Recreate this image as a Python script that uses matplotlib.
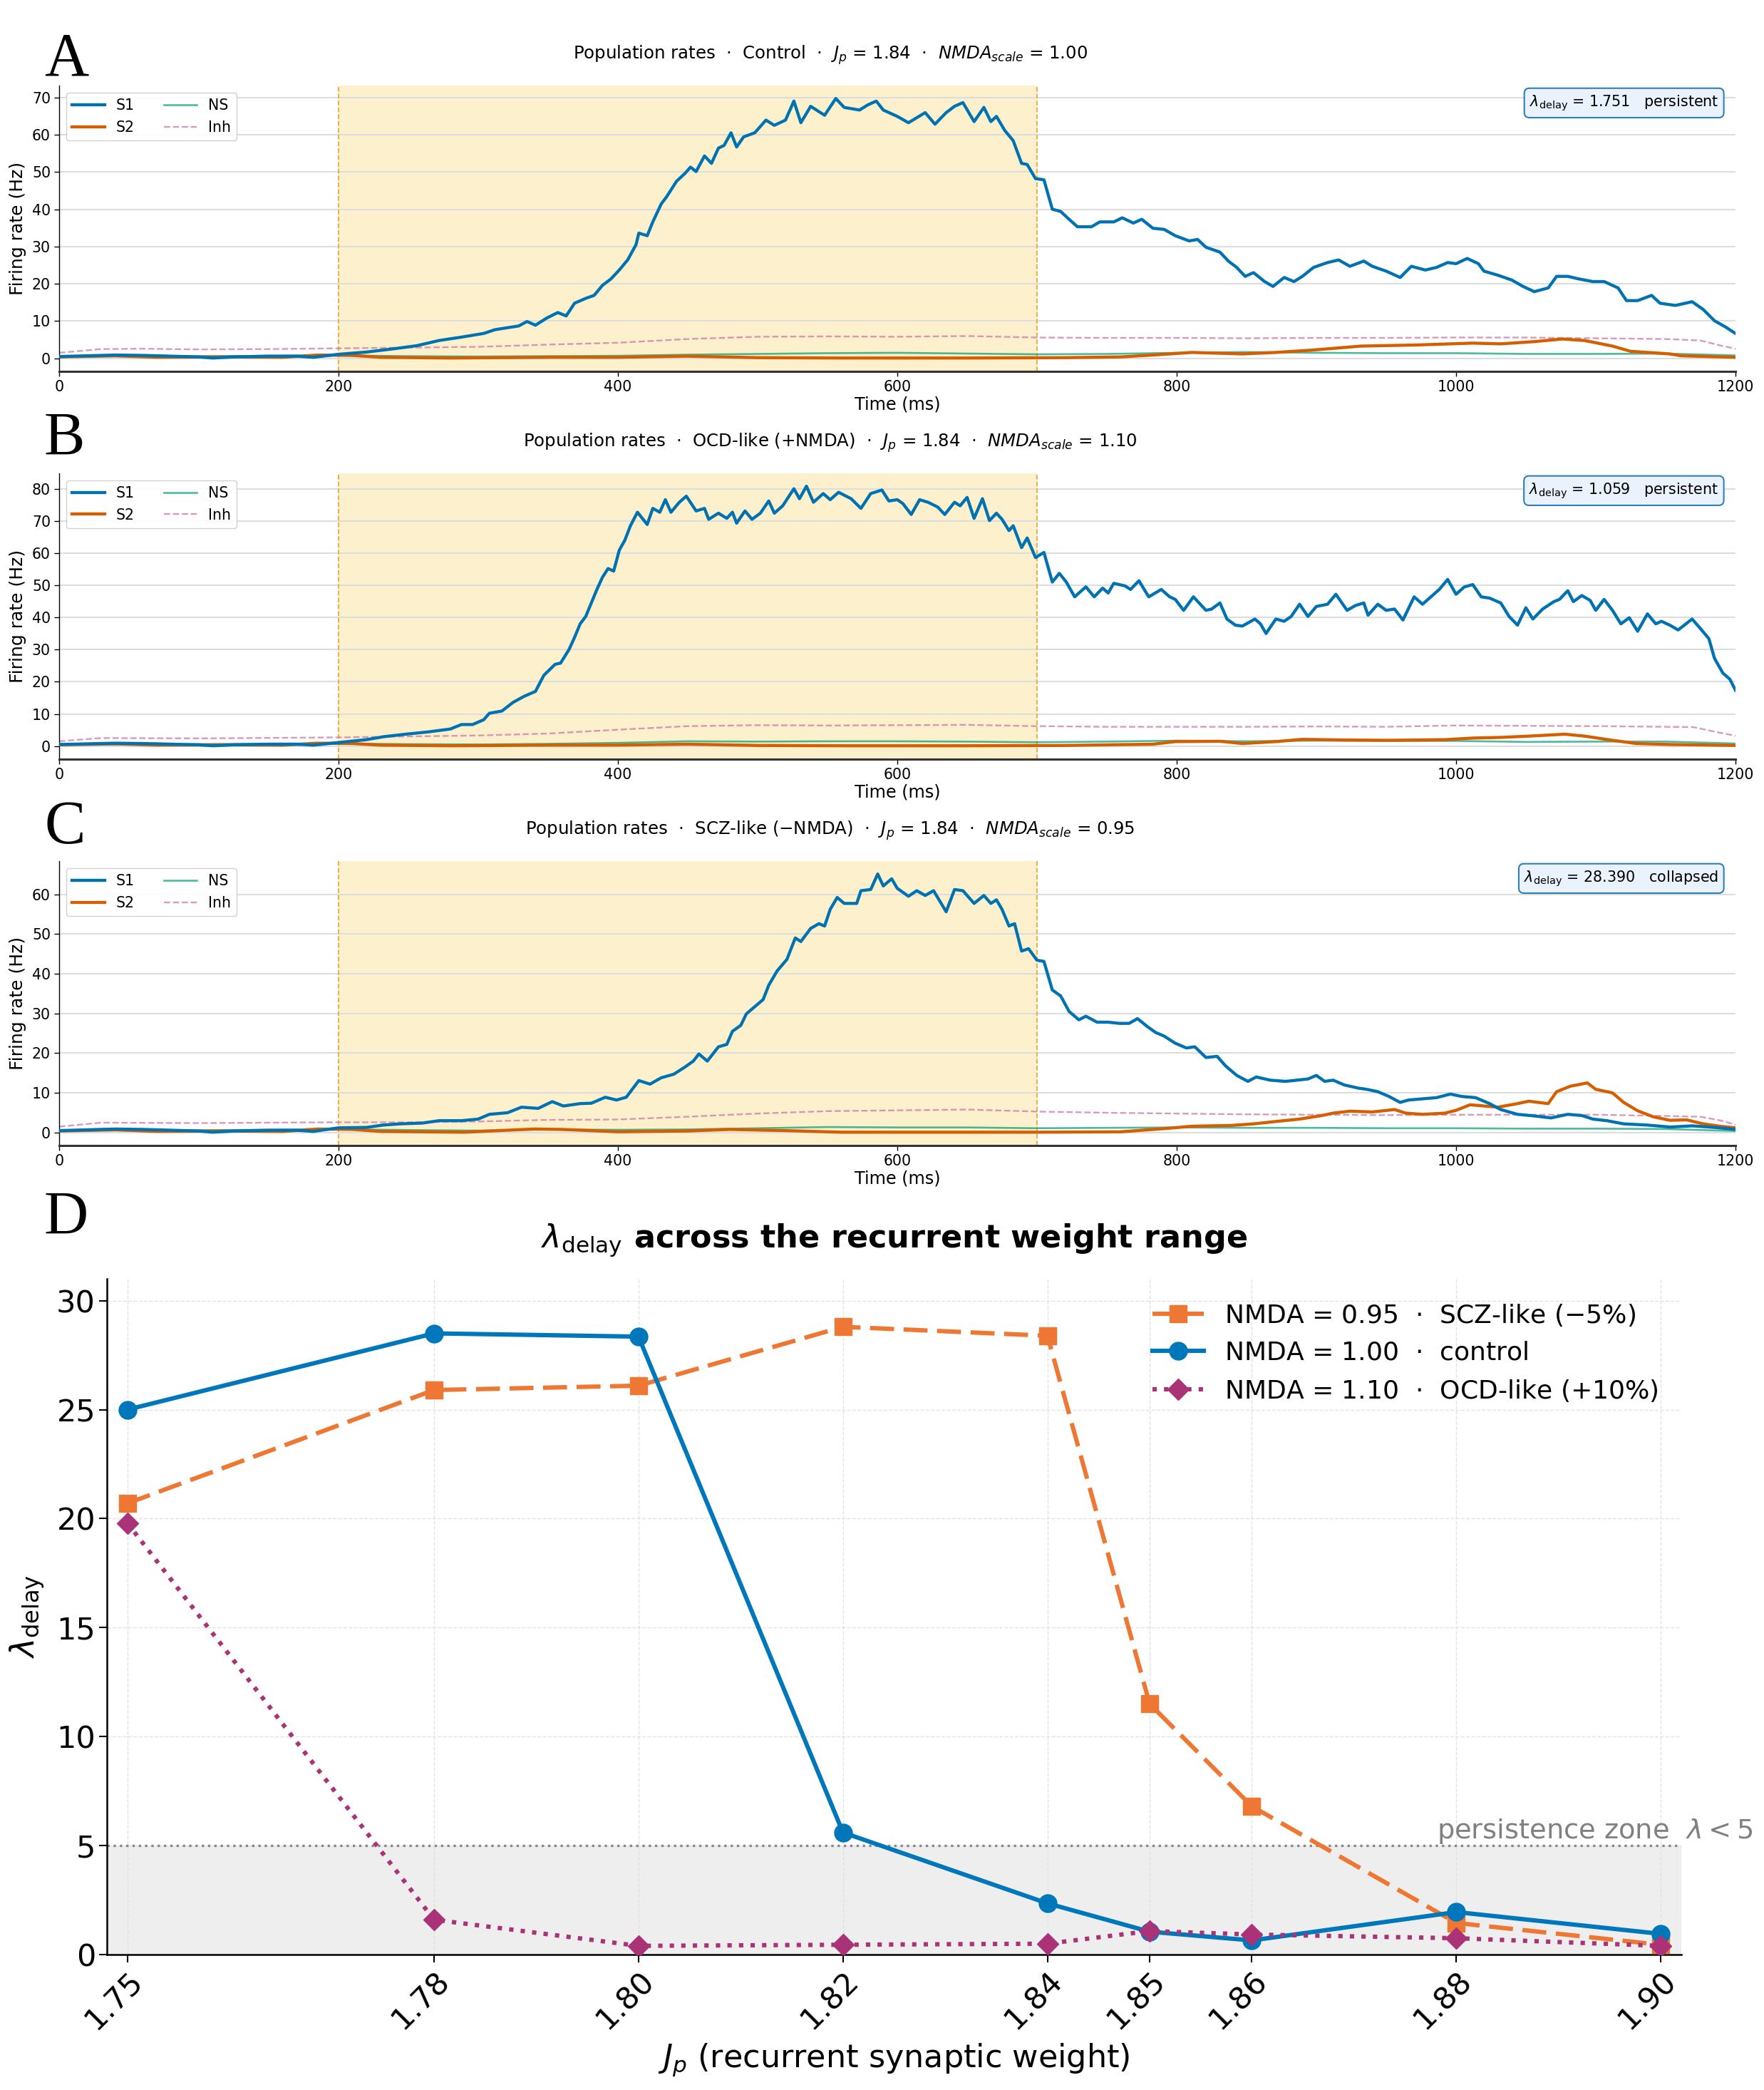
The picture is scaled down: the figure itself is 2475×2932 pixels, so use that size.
import numpy as np
import matplotlib
matplotlib.use('Agg')
import matplotlib.pyplot as plt

plt.rcParams['font.family'] = ['DejaVu Sans']
plt.rcParams['mathtext.fontset'] = 'dejavusans'

# ---------------- data: panels A-C (population rates) ----------------
# shared pre-stimulus segment (identical across conditions)
t_pre_s1 = [0, 20, 40, 60, 80, 100, 110, 125, 150, 170, 182]
v_pre_s1 = [0.5, 0.7, 0.9, 0.8, 0.6, 0.4, 0.1, 0.4, 0.6, 0.6, 0.3]

# Panel A (control)
tA_s1 = t_pre_s1 + [200, 220, 240, 256, 272, 288, 304, 312, 329, 335, 341, 349, 357, 363, 369, 377, 383, 389, 395,
                    401, 407, 413, 415, 421, 425, 431, 435, 442, 448, 452, 456, 462, 467, 472, 476, 481, 485, 490,
                    498, 506, 512, 520, 526, 531, 538, 548, 556, 562, 573, 579, 585, 590, 600, 608, 620, 627, 635,
                    641, 647, 655, 662, 667, 671, 677, 683, 689, 693, 699, 705, 711, 717, 723, 729, 739, 745, 755,
                    761, 769, 775, 783, 791, 799, 809, 815, 821, 831, 837, 843, 849, 855, 863, 869, 877, 884, 890,
                    898, 908, 916, 924, 934, 940, 950, 960, 968, 978, 986, 994, 1000, 1008, 1016, 1020, 1030, 1040,
                    1048, 1056, 1066, 1072, 1080, 1088, 1098, 1106, 1116, 1122, 1130, 1140, 1146, 1157, 1169, 1177,
                    1185, 1193, 1200]
vA_s1 = v_pre_s1 + [1.1, 1.7, 2.6, 3.4, 4.8, 5.7, 6.7, 7.7, 8.7, 9.9, 8.9, 10.8, 12.3, 11.4, 14.8, 16.1, 16.9, 19.6,
                    21.3, 23.7, 26.4, 30.5, 33.6, 32.9, 36.6, 41.4, 43.4, 47.5, 49.6, 51.3, 50.1, 54.3, 52.3, 56.4,
                    57.1, 60.5, 56.7, 59.4, 60.5, 63.9, 62.5, 63.9, 69.0, 63.2, 67.6, 65.2, 69.7, 67.3, 66.6, 68.0,
                    69.0, 66.6, 64.9, 63.2, 65.9, 62.8, 65.9, 67.6, 68.6, 63.5, 67.3, 63.5, 64.9, 61.1, 58.4, 52.3,
                    52.0, 48.2, 47.9, 40.0, 39.4, 37.3, 35.3, 35.3, 36.6, 36.6, 37.7, 36.3, 37.3, 34.9, 34.6, 32.9,
                    31.5, 31.9, 29.8, 28.5, 26.1, 24.4, 22.0, 23.0, 20.6, 19.3, 21.7, 20.6, 22.0, 24.4, 25.7, 26.4,
                    24.7, 26.1, 24.7, 23.4, 21.7, 24.7, 23.7, 24.4, 25.7, 25.4, 26.8, 25.4, 23.4, 22.3, 21.0, 19.3,
                    17.9, 18.9, 22.0, 22.0, 21.3, 20.6, 20.6, 18.9, 15.5, 15.5, 16.9, 14.8, 14.2, 15.2, 13.1, 10.1,
                    8.4, 6.7]
tA_s2 = [0, 40, 70, 120, 160, 185, 210, 230, 280, 350, 400, 450, 500, 560, 650, 720, 760, 783, 811, 847, 871, 896,
         932, 972, 1012, 1032, 1056, 1076, 1092, 1112, 1125, 1153, 1161, 1200]
vA_s2 = [0.4, 0.7, 0.3, 0.4, 0.3, 0.9, 0.8, 0.3, 0.1, 0.3, 0.3, 0.6, 0.2, 0.1, 0.1, 0.2, 0.4, 0.9, 1.6, 1.2, 1.6, 2.2,
         3.3, 3.6, 4.1, 3.9, 4.5, 5.2, 4.8, 3.3, 1.9, 1.2, 0.7, 0.3]
tA_ns = [0, 100, 200, 250, 300, 400, 450, 500, 550, 600, 650, 700, 750, 800, 850, 900, 950, 1000, 1050, 1100, 1150, 1200]
vA_ns = [0.5, 0.6, 0.8, 0.6, 0.5, 0.7, 1.0, 1.2, 1.4, 1.5, 1.3, 1.1, 1.2, 1.5, 1.7, 1.5, 1.4, 1.4, 1.2, 1.2, 1.3, 0.8]
tA_inh = [0, 30, 60, 100, 150, 200, 250, 300, 350, 400, 450, 500, 550, 600, 650, 700, 750, 800, 850, 900, 950, 1000,
          1050, 1100, 1150, 1175, 1190, 1200]
vA_inh = [1.5, 2.5, 2.6, 2.4, 2.5, 2.7, 2.9, 3.1, 3.7, 4.2, 5.2, 5.8, 5.9, 5.8, 6.0, 5.6, 5.5, 5.5, 5.4, 5.5, 5.5, 5.6,
          5.6, 5.4, 5.2, 4.8, 3.4, 2.6]

# Panel B (OCD-like)
tB_s1 = t_pre_s1 + [200, 220, 232, 248, 264, 280, 288, 296, 304, 308, 317, 325, 333, 341, 347, 355, 359, 365, 369, 373,
                    377, 381, 385, 389, 393, 397, 401, 405, 409, 414, 421, 425, 430, 434, 438, 444, 449, 456, 462,
                    465, 472, 478, 482, 485, 491, 496, 502, 508, 512, 518, 526, 530, 535, 540, 547, 552, 558, 567,
                    574, 581, 589, 594, 600, 604, 610, 616, 622, 629, 634, 641, 645, 650, 655, 661, 666, 671, 675,
                    680, 683, 689, 693, 699, 705, 711, 716, 721, 727, 735, 741, 747, 751, 755, 763, 767, 773, 780,
                    789, 795, 799, 805, 812, 821, 825, 831, 836, 842, 847, 856, 860, 864, 871, 877, 882, 888, 894,
                    900, 908, 914, 922, 928, 934, 937, 944, 950, 956, 962, 970, 976, 982, 988, 994, 1000, 1006, 1012,
                    1018, 1024, 1032, 1038, 1044, 1050, 1055, 1062, 1070, 1074, 1080, 1084, 1090, 1096, 1100, 1106,
                    1112, 1118, 1124, 1130, 1137, 1143, 1147, 1153, 1159, 1169, 1175, 1181, 1185, 1191, 1196, 1200]
vB_s1 = v_pre_s1 + [1.1, 2.0, 2.9, 3.7, 4.4, 5.3, 6.7, 6.7, 8.2, 10.2, 10.9, 13.6, 15.5, 17.0, 22.0, 25.4, 25.8, 30.0,
                    33.8, 38.0, 40.3, 44.5, 48.7, 52.5, 55.2, 54.4, 60.9, 64.0, 68.5, 72.7, 68.9, 73.9, 72.7, 76.6,
                    72.7, 75.8, 77.7, 73.1, 73.9, 70.5, 72.4, 70.8, 72.7, 69.3, 73.1, 70.5, 72.4, 76.2, 72.4, 74.7,
                    80.0, 76.9, 80.8, 75.8, 78.5, 76.6, 78.9, 76.9, 73.9, 78.5, 79.6, 76.2, 76.6, 75.4, 72.0, 76.6,
                    75.8, 74.3, 72.0, 75.8, 74.7, 77.3, 70.8, 76.9, 70.1, 72.4, 70.5, 67.0, 68.5, 61.7, 64.7, 58.6,
                    60.2, 51.0, 53.7, 51.0, 46.4, 49.5, 46.4, 49.1, 47.6, 50.6, 49.8, 48.7, 51.4, 46.4, 48.7, 46.4,
                    45.6, 42.2, 46.4, 42.2, 42.6, 44.5, 39.5, 37.6, 37.3, 39.5, 38.0, 35.0, 39.5, 38.8, 40.3, 44.1,
                    40.3, 43.4, 44.1, 47.2, 42.2, 43.7, 44.5, 40.7, 44.1, 42.2, 42.6, 39.2, 46.4, 44.1, 46.4, 48.7,
                    51.8, 47.2, 49.5, 50.2, 46.4, 46.0, 44.5, 40.3, 37.6, 43.0, 39.5, 42.6, 44.9, 45.6, 48.3, 44.9,
                    46.8, 45.3, 42.2, 45.6, 42.2, 38.0, 39.9, 35.7, 41.1, 38.0, 38.8, 37.6, 36.1, 39.5, 36.5, 33.4,
                    27.3, 22.7, 20.8, 17.4]
tB_s2 = [0, 40, 70, 120, 160, 185, 210, 230, 280, 350, 400, 450, 500, 560, 650, 720, 783, 799, 831, 847, 871, 890,
         920, 952, 992, 1012, 1032, 1052, 1078, 1092, 1112, 1129, 1153, 1200]
vB_s2 = [0.4, 0.7, 0.3, 0.4, 0.3, 0.9, 0.8, 0.3, 0.1, 0.3, 0.3, 0.6, 0.2, 0.1, 0.1, 0.2, 0.6, 1.4, 1.5, 0.8, 1.4, 2.1,
         1.9, 1.8, 2.0, 2.5, 2.7, 3.1, 3.7, 3.1, 1.8, 0.8, 0.5, 0.2]
tB_ns = [0, 100, 200, 250, 300, 350, 400, 450, 500, 550, 600, 650, 700, 750, 800, 850, 900, 950, 1000, 1050, 1100,
         1150, 1200]
vB_ns = [0.5, 0.6, 0.8, 0.6, 0.5, 0.7, 1.0, 1.5, 1.4, 1.5, 1.5, 1.4, 1.2, 1.4, 1.7, 1.5, 1.7, 1.6, 1.6, 1.3, 1.4, 1.4,
         0.8]
tB_inh = [0, 30, 100, 200, 250, 300, 350, 400, 450, 500, 550, 600, 650, 700, 750, 800, 850, 900, 950, 1000, 1050,
          1100, 1150, 1170, 1185, 1200]
vB_inh = [1.5, 2.5, 2.4, 2.7, 3.0, 3.3, 3.9, 5.1, 6.2, 6.5, 6.4, 6.5, 6.6, 6.2, 6.0, 6.0, 6.0, 6.1, 6.0, 6.4, 6.3,
          6.2, 6.0, 5.9, 4.5, 3.2]

# Panel C (SCZ-like)
tC_s1 = t_pre_s1 + [200, 220, 232, 244, 260, 272, 288, 300, 308, 321, 331, 343, 353, 361, 373, 381, 391, 399, 406, 415,
                    423, 431, 440, 448, 454, 458, 464, 472, 478, 482, 488, 492, 498, 504, 508, 514, 521, 527, 531,
                    538, 544, 548, 552, 557, 562, 571, 574, 581, 586, 590, 596, 600, 608, 614, 620, 626, 635, 641,
                    647, 655, 662, 667, 671, 675, 680, 684, 689, 694, 700, 705, 711, 717, 723, 730, 735, 743, 751,
                    759, 766, 772, 779, 785, 791, 799, 807, 813, 821, 829, 835, 843, 851, 857, 867, 878, 886, 894,
                    900, 906, 912, 920, 930, 936, 944, 952, 960, 966, 976, 986, 996, 1004, 1014, 1024, 1032, 1044,
                    1056, 1068, 1080, 1090, 1098, 1108, 1120, 1137, 1153, 1169, 1185, 1200]
vC_s1 = v_pre_s1 + [1.2, 1.3, 1.9, 2.2, 2.4, 3.0, 3.0, 3.4, 4.6, 5.0, 6.4, 6.1, 7.8, 6.7, 7.3, 7.4, 8.9, 8.2, 8.9,
                    13.1, 12.2, 13.8, 14.7, 16.5, 18.0, 19.8, 18.0, 21.6, 22.2, 25.5, 27.0, 29.9, 31.7, 33.5, 37.1,
                    40.7, 43.6, 49.0, 48.1, 51.4, 52.6, 52.0, 56.2, 59.2, 57.7, 57.7, 60.9, 61.2, 65.1, 62.1, 63.9,
                    61.5, 59.5, 60.9, 59.7, 60.9, 55.6, 61.2, 60.9, 57.7, 59.7, 57.7, 58.6, 56.2, 52.0, 52.6, 45.7,
                    46.3, 43.4, 43.1, 35.9, 34.4, 30.5, 28.4, 29.3, 27.8, 27.8, 27.5, 27.5, 28.7, 26.7, 25.2, 24.3,
                    22.5, 21.3, 21.6, 18.9, 19.2, 16.8, 14.4, 12.9, 14.0, 13.2, 12.9, 13.2, 13.5, 14.4, 12.9, 13.2,
                    12.0, 11.2, 10.9, 10.3, 9.1, 7.6, 8.2, 8.5, 8.8, 9.7, 9.1, 8.8, 7.3, 5.8, 4.6, 4.2, 3.7, 4.6,
                    4.3, 3.4, 3.0, 2.2, 1.9, 1.4, 1.7, 1.3, 0.8]
tC_s2 = [0, 40, 70, 120, 160, 185, 210, 230, 290, 340, 360, 400, 450, 480, 520, 560, 600, 700, 760, 791, 811, 839,
         855, 871, 888, 904, 912, 924, 940, 956, 964, 976, 992, 1000, 1010, 1020, 1030, 1044, 1052, 1066, 1072,
         1082, 1094, 1100, 1112, 1120, 1130, 1141, 1153, 1165, 1177, 1189, 1200]
vC_s2 = [0.4, 0.7, 0.3, 0.4, 0.3, 0.9, 0.8, 0.3, 0.1, 0.9, 0.8, 0.2, 0.4, 0.8, 0.5, 0.1, 0.1, 0.1, 0.2, 1.0, 1.6, 1.8,
         2.2, 2.8, 3.4, 4.3, 4.9, 5.4, 5.2, 5.8, 4.9, 4.6, 4.9, 5.6, 7.0, 6.7, 6.4, 7.3, 7.9, 7.3, 10.3, 11.7, 12.5,
         10.9, 10.0, 7.6, 5.5, 4.0, 3.1, 3.2, 2.2, 1.6, 1.2]
tC_ns = [0, 100, 200, 300, 350, 400, 450, 500, 550, 600, 650, 700, 750, 800, 850, 900, 950, 1000, 1050, 1100, 1150,
         1200]
vC_ns = [0.5, 0.6, 0.8, 0.5, 0.8, 0.7, 0.8, 1.1, 1.4, 1.3, 1.3, 1.1, 1.2, 1.3, 1.2, 1.2, 1.1, 1.1, 1.0, 1.0, 0.9, 0.4]
tC_inh = [0, 30, 100, 200, 250, 300, 350, 400, 450, 500, 550, 600, 650, 700, 750, 800, 850, 900, 950, 1000, 1050,
          1100, 1150, 1175, 1190, 1200]
vC_inh = [1.5, 2.5, 2.4, 2.6, 2.6, 2.8, 3.2, 3.3, 4.0, 4.8, 5.4, 5.6, 5.8, 5.3, 5.0, 4.8, 4.6, 4.5, 4.4, 4.5, 4.5,
          4.5, 4.2, 4.0, 3.0, 2.0]

panel_titles = [
    r"Population rates  $\cdot$  Control  $\cdot$  $J_p$ = 1.84  $\cdot$  $NMDA_{scale}$ = 1.00",
    r"Population rates  $\cdot$  OCD-like (+NMDA)  $\cdot$  $J_p$ = 1.84  $\cdot$  $NMDA_{scale}$ = 1.10",
    r"Population rates  $\cdot$  SCZ-like ($-$NMDA)  $\cdot$  $J_p$ = 1.84  $\cdot$  $NMDA_{scale}$ = 0.95",
]
lambda_values = ["1.751", "1.059", "28.390"]
lambda_states = ["persistent", "persistent", "collapsed"]
panel_letters = ["A", "B", "C", "D"]

# ---------------- data: panel D ----------------
jp_values = [1.75, 1.78, 1.80, 1.82, 1.84, 1.85, 1.86, 1.88, 1.90]
lam_nmda_095 = [20.7, 25.9, 26.1, 28.8, 28.39, 11.5, 6.8, 1.45, 0.45]
lam_nmda_100 = [25.0, 28.5, 28.35, 5.6, 2.35, 1.05, 0.65, 1.95, 0.95]
lam_nmda_110 = [19.8, 1.6, 0.4, 0.45, 0.5, 1.08, 0.92, 0.75, 0.4]
series_labels = [r"NMDA = 0.95  $\cdot$  SCZ-like ($-$5%)",
                 r"NMDA = 1.00  $\cdot$  control",
                 r"NMDA = 1.10  $\cdot$  OCD-like (+10%)"]

# ---------------- figure ----------------
fig = plt.figure(figsize=(24.75, 29.32), dpi=100)

C_S1, C_S2, C_NS, C_INH = '#0072B2', '#D55E00', '#009E73', '#CC79A7'

rects = [(0.0335, 0.8223, 0.9503, 0.1368),
         (0.0335, 0.6368, 0.9503, 0.1368),
         (0.0335, 0.4519, 0.9503, 0.1361)]
series = [
    (tA_s1, vA_s1, tA_s2, vA_s2, tA_ns, vA_ns, tA_inh, vA_inh),
    (tB_s1, vB_s1, tB_s2, vB_s2, tB_ns, vB_ns, tB_inh, vB_inh),
    (tC_s1, vC_s1, tC_s2, vC_s2, tC_ns, vC_ns, tC_inh, vC_inh),
]

for i, (rect, d) in enumerate(zip(rects, series)):
    ax = fig.add_axes(rect)
    ts1, vs1, ts2, vs2, tns, vns, tinh, vinh = d
    ax.axvspan(200, 700, color='#fdf1cd', lw=0, zorder=0)
    ax.axvline(200, color='#e9a93c', ls='--', lw=1.3, zorder=1)
    ax.axvline(700, color='#e9a93c', ls='--', lw=1.3, zorder=1)
    ax.plot(ts1, vs1, color=C_S1, lw=3.1, label='S1', zorder=5)
    ax.plot(ts2, vs2, color=C_S2, lw=3.1, label='S2', zorder=4)
    ax.plot(tns, vns, color=C_NS, lw=1.9, alpha=0.7, label='NS', zorder=3)
    ax.plot(tinh, vinh, color=C_INH, lw=1.7, ls='--', alpha=0.75, label='Inh', zorder=2)
    m = max(vs1)
    ax.set_ylim(-0.05 * m, 1.05 * m)
    ax.set_xlim(0, 1200)
    ax.set_xticks([0, 200, 400, 600, 800, 1000, 1200])
    ax.grid(axis='y', color='#dddddd', lw=1.5)
    ax.set_axisbelow(True)
    for s in ['top', 'right']:
        ax.spines[s].set_visible(False)
    ax.spines['left'].set_linewidth(1.0)
    ax.spines['bottom'].set_linewidth(2.2)
    ax.spines['bottom'].set_color('#333333')
    ax.tick_params(labelsize=14.8, length=5, width=1)
    ax.set_xlabel('Time (ms)', fontsize=17.3, labelpad=2)
    ax.set_ylabel('Firing rate (Hz)', fontsize=18, labelpad=6)
    ax.text(0.46, 1.107, panel_titles[i], transform=ax.transAxes, ha='center', va='center', fontsize=17.6)
    ax.legend(loc='upper left', ncol=2, fontsize=14.8, framealpha=0.9, edgecolor='#cccccc', handlelength=2.2)
    ax.text(0.99, 0.939, r"$\lambda_{\rm delay}$ = " + lambda_values[i] + "   " + lambda_states[i],
            transform=ax.transAxes, ha='right', va='center', fontsize=14.9, zorder=10,
            bbox=dict(boxstyle='round,pad=0.35', fc='#eaf2fd', ec='#2c7fb8', lw=1.5))

# Panel D
axd = fig.add_axes([0.0606, 0.0648, 0.8925, 0.3233])
axd.axhspan(0, 5, color='#eeeeee', lw=0, zorder=0)
axd.axhline(5, color='#888888', ls=':', lw=2.4, zorder=1)
axd.plot(jp_values, lam_nmda_095, color='#EE7733', ls=(0, (5.5, 2.2)), lw=4.4, marker='s', ms=17,
         label=series_labels[0], zorder=3)
axd.plot(jp_values, lam_nmda_100, color='#0077BB', ls='-', lw=4.4, marker='o', ms=18,
         label=series_labels[1], zorder=4)
axd.plot(jp_values, lam_nmda_110, color='#AA3377', ls=':', lw=4.4, marker='D', ms=15.5,
         label=series_labels[2], zorder=5)
axd.set_xlim(1.748, 1.902)
axd.set_ylim(0, 31)
axd.set_yticks([0, 5, 10, 15, 20, 25, 30])
axd.set_xticks(jp_values)
axd.set_xticklabels([f"{v:.2f}" for v in jp_values], rotation=45, ha='right', rotation_mode='anchor')
axd.tick_params(labelsize=31, length=8, width=1.5)
axd.grid(True, ls='--', color='#dddddd', lw=1.0, alpha=0.8)
axd.set_axisbelow(True)
for s in ['top', 'right']:
    axd.spines[s].set_visible(False)
for s in ['left', 'bottom']:
    axd.spines[s].set_linewidth(1.8)
axd.set_xlabel(r'$J_p$ (recurrent synaptic weight)', fontsize=32, labelpad=6)
axd.set_ylabel(r'$\lambda_{\rm delay}$', fontsize=33, labelpad=10)
axd.text(0.5, 1.058, r'$\lambda_{\rm delay}$ across the recurrent weight range', transform=axd.transAxes,
         ha='center', va='center', fontsize=32, fontweight='bold')
axd.text(1.909, 5.0, r'persistence zone  $\lambda < 5$', ha='right', va='bottom', fontsize=27.6,
         color='#808080', clip_on=False)
axd.legend(loc='upper right', fontsize=26, frameon=False)

# Panel letters
letter_y = [1 - 105 / 2932, 1 - 638 / 2932, 1 - 1183 / 2932, 1 - 1731 / 2932]
for L, y in zip(panel_letters, letter_y):
    fig.text(62 / 2475, y, L, fontsize=62, family='Liberation Serif', va='baseline', ha='left')

fig.savefig('out.png', dpi=100)
